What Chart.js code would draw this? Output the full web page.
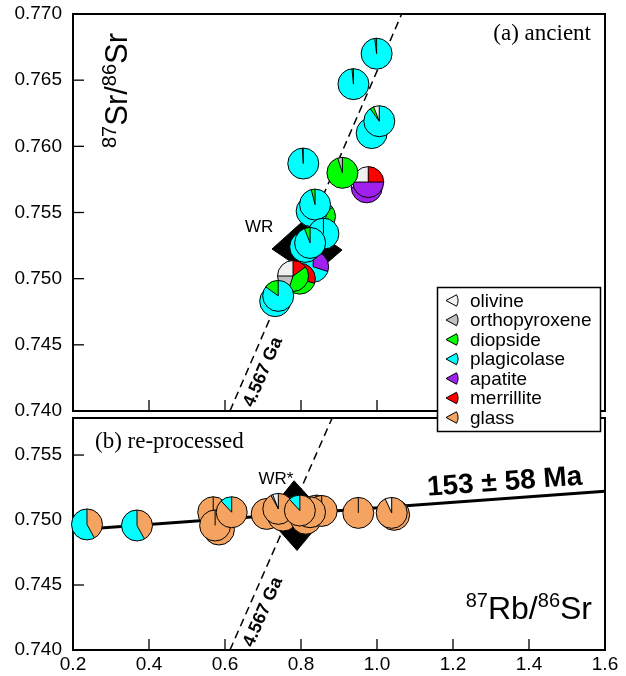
<!DOCTYPE html>
<html><head><meta charset="utf-8">
<script src="https://cdn.jsdelivr.net/npm/chart.js@4.4.1/dist/chart.umd.min.js"></script>
<style>
html,body{margin:0;padding:0;background:#fff;}
#wrap{position:relative;width:626px;height:676px;background:#fff;}
canvas{position:absolute;left:0;top:0;}
</style></head><body>
<div id="wrap"><canvas id="ca" width="626" height="676"></canvas><canvas id="cb" width="626" height="676"></canvas></div>
<script>
// ---------- data ----------
const minerals = ['olivine','orthopyroxene','diopside','plagicolase','apatite','merrillite','glass'];
const mineralColors = ['#f0f0f0','#c0c0c0','#00ff00','#00ffff','#a020f0','#ff0000','#f4a460'];
const xTicks = [0.2,0.4,0.6,0.8,1.0,1.2,1.4,1.6];
const yTicksA = [0.740,0.745,0.750,0.755,0.760,0.765,0.770];
const yTicksB = [0.740,0.745,0.750,0.755];

// (a) ancient: mineral separates, mix = % of each mineral (order of `minerals`)
const ancientX = [0.973,0.977,0.909,0.806,0.938,0.999,0.986,1.006,0.850,0.828,0.837,0.859,0.832,0.797,0.779,0.811,0.824,0.732,0.740];
const ancientY = [0.7569,0.7573,0.7580,0.7587,0.7647,0.7670,0.7610,0.7619,0.7547,0.7551,0.7556,0.7534,0.7509,0.7500,0.7502,0.7524,0.7527,0.7483,0.7487];
const ancientMix = [
 [25,0,0,0,50,25,0],[25,0,0,0,50,25,0],[0,5,95,0,0,0,0],[0,0,1,99,0,0,0],
 [0,0,1.5,98.5,0,0,0],[0,0,2,98,0,0,0],[0,0,3,97,0,0,0],[6,0,4,90,0,0,0],
 [0,0,85,15,0,0,0],[0,0,0,100,0,0,0],[0,0,4,96,0,0,0],[0,0,0,100,0,0,0],
 [0,0,0,70,30,0,0],[0,0,70,0,0,30,0],[25,20,40,0,0,15,0],[0,0,0,100,0,0,0],
 [0,0,6,94,0,0,0],[0,0,0,100,0,0,0],[0,0,15,85,0,0,0]
];
// (b) re-processed
const reprocX = [0.2368,0.3684,0.569,0.584,0.574,0.6176,0.7097,0.7526,0.7403,0.813,0.841,0.8545,0.8237,0.797,0.9508,1.045,1.0387];
const reprocY = [0.74966,0.74958,0.7506,0.74927,0.74958,0.7506,0.75047,0.75034,0.75086,0.7501,0.75073,0.7507,0.7506,0.75073,0.75055,0.7504,0.75055];
const reprocMix = [
 [0,0,0,58,0,0,42],[0,0,0,58,0,0,42],[0,0,0,0,0,0,100],[0,0,0,0,0,0,100],
 [0,0,0,0,0,0,100],[0,0,0,12,0,0,88],[0,0,0,0,0,0,100],[0,0,0,0,0,0,100],
 [6,2,0,0,0,0,92],[0,0,0,0,0,0,100],[0,0,0,0,0,0,100],[0,0,0,0,0,0,100],
 [0,0,0,0,0,0,100],[0,0,0,12,0,0,88],[0,0,0,0,0,0,100],[0,0,0,0,0,0,100],
 [7,0,0,0,0,0,93]
];
// whole rock error boxes
const wrX = [0.7237,0.8026,0.9079,0.8289,0.7237];
const wrY = [0.75224,0.75428,0.75217,0.75020,0.75224];
const wr2X = [0.708,0.7816,0.8658,0.7895,0.708];
const wr2Y = [0.75034,0.75302,0.75034,0.74766,0.75034];
// 4.567 Ga reference line and 153 Ma isochron
const refX = [0.613,1.065];
const refY = [0.740,0.770];
const isoX = [0.2,1.6];
const isoY = [0.74923,0.75222];

// ---------- helpers ----------
const SANS = '"Liberation Sans", Arial, Helvetica, sans-serif';
const SERIF = '"Liberation Serif", "Times New Roman", serif';
const pts = (xs, ys) => xs.map((x,i)=>({x, y: ys[i]}));

function drawPie(ctx, cx, cy, r, mix){
  const tot = mix.reduce((a,b)=>a+b,0);
  let a = -Math.PI/2;
  const segs = [];
  mix.forEach((v,i)=>{ if(v<=0) return; const da=v/tot*Math.PI*2; segs.push([a,a-da,i]); a-=da; });
  segs.forEach(([s,e,i])=>{
    ctx.beginPath(); ctx.moveTo(cx,cy); ctx.arc(cx,cy,r,s,e,true); ctx.closePath();
    ctx.fillStyle = mineralColors[i]; ctx.fill();
  });
  ctx.strokeStyle='#000'; ctx.lineWidth=1;
  segs.forEach(([s])=>{ ctx.beginPath(); ctx.moveTo(cx,cy); ctx.lineTo(cx+r*Math.cos(s), cy+r*Math.sin(s)); ctx.stroke(); });
  ctx.beginPath(); ctx.arc(cx,cy,r,0,Math.PI*2); ctx.stroke();
}

function supText(ctx, parts, x, y, mainPx, supPx, rise, align){
  const f = p => (p.sup ? supPx : mainPx) + 'px ' + SANS;
  let w = 0;
  parts.forEach(p=>{ ctx.font=f(p); w += ctx.measureText(p.t).width; });
  let cx = align==='right' ? x - w : x;
  ctx.textAlign='left'; ctx.textBaseline='alphabetic'; ctx.fillStyle='#000';
  parts.forEach(p=>{ ctx.font=f(p); ctx.fillText(p.t, cx, p.sup ? y-rise : y); cx += ctx.measureText(p.t).width; });
}

function drawFrame(chart, bottomTicks){
  const ctx=chart.ctx, ca=chart.chartArea, xs=chart.scales.x, ys=chart.scales.y;
  ctx.save();
  ctx.strokeStyle='#000'; ctx.lineWidth=2;
  ctx.strokeRect(ca.left, ca.top, ca.right-ca.left, ca.bottom-ca.top);
  ctx.lineWidth=1.3;
  ys.ticks.forEach(t=>{ const py=ys.getPixelForValue(t.value); if(py<=ca.top+1||py>=ca.bottom-1) return;
    ctx.beginPath(); ctx.moveTo(ca.left,py); ctx.lineTo(ca.left+11,py); ctx.stroke(); });
  if(bottomTicks) xTicks.forEach(v=>{ const px=xs.getPixelForValue(v); if(px<=ca.left+1||px>=ca.right-1) return;
    ctx.beginPath(); ctx.moveTo(px,ca.bottom); ctx.lineTo(px,ca.bottom-11); ctx.stroke(); });
  ctx.restore();
}

function rotLabel(ctx, text, font, px, py, ang, off){
  ctx.save();
  ctx.translate(px, py); ctx.rotate(ang);
  ctx.font=font; ctx.fillStyle='#000'; ctx.textAlign='center'; ctx.textBaseline='middle';
  ctx.fillText(text, 0, off);
  ctx.restore();
}

function lineAngle(chart, xs_, ys_){
  const xs=chart.scales.x, ys=chart.scales.y;
  const x0=xs.getPixelForValue(xs_[0]), y0=ys.getPixelForValue(ys_[0]);
  const x1=xs.getPixelForValue(xs_[1]), y1=ys.getPixelForValue(ys_[1]);
  return Math.atan2(y1-y0, x1-x0);
}

function gaLabel(chart){
  const ctx=chart.ctx, xs=chart.scales.x, ys=chart.scales.y;
  const ang = lineAngle(chart, refX, refY);
  const ax = 0.664, ay = refY[0] + (ax-refX[0])*(refY[1]-refY[0])/(refX[1]-refX[0]);
  rotLabel(ctx, '4.567 Ga', 'bold 18px '+SANS, xs.getPixelForValue(ax), ys.getPixelForValue(ay), ang, 15);
}

function panelScales(yTicks, yMin, yMax, showX){
  return {
    x: { type:'linear', min:0.2, max:1.6, display: showX,
         afterBuildTicks: s=>{ s.ticks = xTicks.map(v=>({value:v})); },
         afterFit: s=>{ s.height = showX ? 26 : 0; s.paddingLeft = 0; s.paddingRight = 0; },
         grid:{display:false, drawTicks:false}, border:{display:false},
         ticks:{ font:{size:19, family:SANS}, color:'#000', padding:3, maxRotation:0, autoSkip:false,
                 callback: v=>v.toFixed(1) } },
    y: { type:'linear', min:yMin, max:yMax,
         afterBuildTicks: s=>{ s.ticks = yTicks.map(v=>({value:v})); },
         afterFit: s=>{ s.width = 73; s.paddingTop = 0; s.paddingBottom = 0; },
         grid:{display:false, drawTicks:false}, border:{display:false},
         ticks:{ font:{size:19, family:SANS}, color:'#000', padding:11, autoSkip:false,
                 callback: v=>v.toFixed(3) } }
  };
}

const lineDs = (data, extra) => Object.assign({ data, borderColor:'#000', pointRadius:0, tension:0, fill:false }, extra);

// ---------- (a) ancient ----------
const pluginA = {
  id:'panelA',
  beforeDatasetsDraw(chart){ drawFrame(chart, true); },
  afterDatasetsDraw(chart){
    const ctx=chart.ctx;
    chart.getDatasetMeta(2).data.forEach((p,j)=>drawPie(ctx, p.x, p.y, 15.5, ancientMix[j]));
    const xs=chart.scales.x, ys=chart.scales.y;
    ctx.save();
    ctx.fillStyle='#000';
    ctx.font='17px '+SANS; ctx.textAlign='right'; ctx.textBaseline='alphabetic';
    ctx.fillText('WR', xs.getPixelForValue(0.727), ys.getPixelForValue(0.7535));
    ctx.font='23px '+SERIF; ctx.textAlign='right';
    ctx.fillText('(a) ancient', 591, 40);
    ctx.translate(127,148); ctx.rotate(-Math.PI/2);
    supText(ctx, [{t:'87',sup:true},{t:'Sr/'},{t:'86',sup:true},{t:'Sr'}], 0, 0, 31, 20, 11, 'left');
    ctx.restore();
    gaLabel(chart);
  }
};
new Chart(document.getElementById('ca'), {
  type:'line',
  data:{ datasets:[
    lineDs(pts(wrX,wrY), {borderWidth:1, backgroundColor:'#000', fill:'shape'}),
    lineDs(pts(refX,refY), {borderWidth:1.5, borderDash:[8,5]}),
    lineDs(pts(ancientX,ancientY), {showLine:false})
  ]},
  options:{ responsive:false, animation:false, devicePixelRatio:1,
    layout:{ padding:{ left:0, right:21, top:14, bottom:265 } },
    plugins:{ legend:{display:false}, tooltip:{enabled:false} },
    scales: panelScales(yTicksA, 0.740, 0.770, false) },
  plugins:[pluginA]
});

// ---------- (b) re-processed ----------
const pluginB = {
  id:'panelB',
  beforeDatasetsDraw(chart){ drawFrame(chart, true); },
  afterDatasetsDraw(chart){
    const ctx=chart.ctx, xs=chart.scales.x, ys=chart.scales.y;
    chart.getDatasetMeta(3).data.forEach((p,j)=>drawPie(ctx, p.x, p.y, 15.5, reprocMix[j]));
    ctx.save();
    ctx.fillStyle='#000';
    ctx.font='17px '+SANS; ctx.textAlign='right'; ctx.textBaseline='alphabetic';
    ctx.fillText('WR*', xs.getPixelForValue(0.78), ys.getPixelForValue(0.7528));
    ctx.font='23px '+SERIF; ctx.textAlign='left';
    ctx.fillText('(b) re-processed', 95, 448);
    supText(ctx, [{t:'87',sup:true},{t:'Rb/'},{t:'86',sup:true},{t:'Sr'}], 592, 619, 32, 20, 12, 'right');
    ctx.restore();
    gaLabel(chart);
    const ang = lineAngle(chart, isoX, isoY);
    const ax=1.339, ay=isoY[0]+(ax-isoX[0])*(isoY[1]-isoY[0])/(isoX[1]-isoX[0]);
    rotLabel(ctx, '153 \u00b1 58 Ma', 'bold 28px '+SANS, xs.getPixelForValue(ax), ys.getPixelForValue(ay), ang, -16);
  },
  afterDraw(chart){
    const ctx=chart.ctx;
    ctx.save();
    const L=437.5, T=287.5, W=163, H=144;
    ctx.fillStyle='#fff'; ctx.fillRect(L,T,W,H);
    ctx.strokeStyle='#000'; ctx.lineWidth=1.5; ctx.strokeRect(L,T,W,H);
    ctx.font='19px '+SANS; ctx.textAlign='left'; ctx.textBaseline='middle';
    minerals.forEach((m,i)=>{
      const cy = T + 13 + i*19.5;
      const ax = 446, r = 12, h = 0.5;
      ctx.beginPath(); ctx.moveTo(ax,cy); ctx.arc(ax,cy,r,-h,h); ctx.closePath();
      ctx.fillStyle=mineralColors[i]; ctx.fill();
      ctx.strokeStyle='#000'; ctx.lineWidth=1; ctx.stroke();
      ctx.fillStyle='#000'; ctx.fillText(m, 470, cy+1);
    });
    ctx.restore();
  }
};
new Chart(document.getElementById('cb'), {
  type:'line',
  data:{ datasets:[
    lineDs(pts(wr2X,wr2Y), {borderWidth:1, backgroundColor:'#000', fill:'shape'}),
    lineDs(pts(refX,refY), {borderWidth:1.5, borderDash:[8,5]}),
    lineDs(pts(isoX,isoY), {borderWidth:3}),
    lineDs(pts(reprocX,reprocY), {showLine:false})
  ]},
  options:{ responsive:false, animation:false, devicePixelRatio:1,
    layout:{ padding:{ left:0, right:21, top:418, bottom:0 } },
    plugins:{ legend:{display:false}, tooltip:{enabled:false} },
    scales: panelScales(yTicksB, 0.740, 0.75785, true) },
  plugins:[pluginB]
});
</script>
</body></html>
